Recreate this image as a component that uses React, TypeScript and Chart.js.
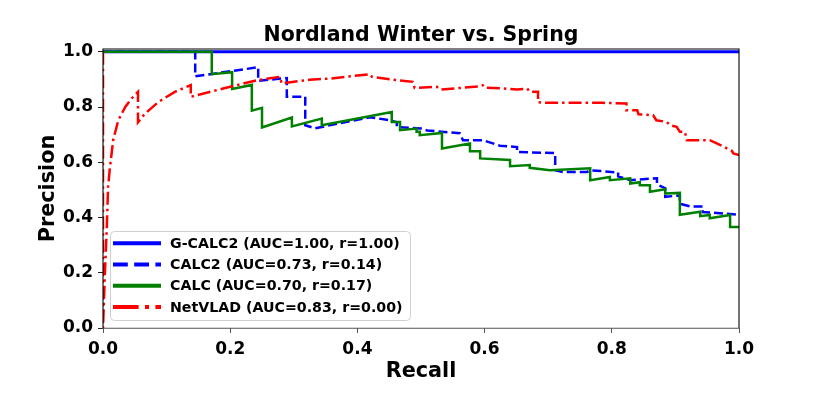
import React, { useEffect, useRef } from "react";
import { Chart, registerables } from "chart.js";

Chart.register(...registerables);

const chartTitle = "Nordland Winter vs. Spring";
const xLabel = "Recall";
const yLabel = "Precision";

const seriesNames = [
  "G-CALC2 (AUC=1.00, r=1.00)",
  "CALC2 (AUC=0.73, r=0.14)",
  "CALC (AUC=0.70, r=0.17)",
  "NetVLAD (AUC=0.83, r=0.00)",
];

const xTicks = [0, 0.2, 0.4, 0.6, 0.8, 1.0];
const yTicks = [0, 0.2, 0.4, 0.6, 0.8, 1.0];

const gcalc2Recall = [0, 1];
const gcalc2Precision = [1, 1];

const calc2Recall = [
  0, 0.145, 0.145, 0.244, 0.244, 0.289, 0.289, 0.318, 0.318, 0.333,
  0.42, 0.451, 0.462, 0.462, 0.5, 0.51, 0.561, 0.566, 0.597, 0.624,
  0.651, 0.651, 0.711, 0.711, 0.723, 0.761, 0.767, 0.81, 0.81, 0.829,
  0.871, 0.871, 0.884, 0.884, 0.907, 0.907, 0.923, 0.943, 0.943, 1.0,
];
const calc2Precision = [
  1, 1, 0.911, 0.944, 0.895, 0.905, 0.837, 0.837, 0.734, 0.723,
  0.763, 0.752, 0.745, 0.727, 0.722, 0.715, 0.705, 0.68, 0.68, 0.66,
  0.655, 0.637, 0.633, 0.571, 0.565, 0.565, 0.571, 0.563, 0.549, 0.535,
  0.542, 0.52, 0.506, 0.475, 0.48, 0.45, 0.44, 0.44, 0.42, 0.41,
];

const calcRecall = [
  0, 0.171, 0.171, 0.203, 0.203, 0.234, 0.234, 0.25, 0.25, 0.297,
  0.297, 0.344, 0.344, 0.454, 0.454, 0.467, 0.467, 0.493, 0.493, 0.498,
  0.498, 0.533, 0.533, 0.577, 0.577, 0.593, 0.593, 0.64, 0.64, 0.671,
  0.671, 0.703, 0.766, 0.766, 0.797, 0.797, 0.829, 0.829, 0.844, 0.844,
  0.86, 0.86, 0.884, 0.884, 0.907, 0.907, 0.939, 0.939, 0.954, 0.954,
  0.986, 0.986, 1.0,
];
const calcPrecision = [
  1, 1, 0.919, 0.926, 0.865, 0.88, 0.787, 0.797, 0.726, 0.762,
  0.73, 0.758, 0.734, 0.782, 0.746, 0.746, 0.716, 0.722, 0.71, 0.71,
  0.698, 0.706, 0.65, 0.668, 0.64, 0.64, 0.614, 0.608, 0.586, 0.59,
  0.58, 0.571, 0.578, 0.535, 0.547, 0.535, 0.542, 0.523, 0.528, 0.517,
  0.517, 0.493, 0.502, 0.487, 0.489, 0.41, 0.421, 0.405, 0.409, 0.397,
  0.409, 0.366, 0.366,
];

const netvladRecall = [
  0, 0, 0.003, 0.006, 0.008, 0.011, 0.016, 0.024, 0.035, 0.045,
  0.055, 0.055, 0.066, 0.087, 0.113, 0.138, 0.138, 0.189, 0.242, 0.278,
  0.281, 0.325, 0.357, 0.42, 0.423, 0.462, 0.487, 0.49, 0.525, 0.53,
  0.593, 0.597, 0.6, 0.629, 0.651, 0.667, 0.671, 0.684, 0.684, 0.698,
  0.786, 0.823, 0.823, 0.84, 0.842, 0.865, 0.87, 0.886, 0.892, 0.902,
  0.907, 0.915, 0.918, 0.954, 0.965, 0.975, 0.981, 0.989, 0.991, 1.0,
];
const netvladPrecision = [
  1, 0, 0.199, 0.366, 0.511, 0.583, 0.68, 0.752, 0.8, 0.831,
  0.855, 0.745, 0.776, 0.818, 0.855, 0.879, 0.837, 0.867, 0.897, 0.909,
  0.885, 0.899, 0.903, 0.919, 0.909, 0.897, 0.891, 0.869, 0.873, 0.863,
  0.875, 0.879, 0.87, 0.867, 0.863, 0.867, 0.855, 0.855, 0.817, 0.815,
  0.815, 0.813, 0.788, 0.788, 0.774, 0.77, 0.752, 0.746, 0.734, 0.728,
  0.71, 0.71, 0.68, 0.68, 0.668, 0.658, 0.65, 0.641, 0.632, 0.626,
];

const FONT = "'DejaVu Sans', sans-serif";

const zip = (xs: number[], ys: number[]) => xs.map((x, i) => ({ x, y: ys[i] }));

const legendStyles = [
  { color: "#0000ff", dash: [] as number[], width: 4 },
  { color: "#0000ff", dash: [14.8, 6.4], width: 4 },
  { color: "#008000", dash: [] as number[], width: 4 },
  { color: "#ff0000", dash: [25.6, 6.4, 4, 6.4], width: 4 },
];

const decorPlugin = {
  id: "decor",
  afterDatasetsDraw(chart: any) {
    const { ctx, chartArea: a } = chart;
    ctx.save();
    ctx.setLineDash([]);
    ctx.lineWidth = 1.1;
    ctx.strokeStyle = "#000";
    ctx.beginPath();
    ctx.moveTo(a.left, a.bottom);
    ctx.lineTo(a.left, a.top);
    ctx.lineTo(a.right, a.top);
    ctx.lineTo(a.right, a.bottom);
    ctx.stroke();
    ctx.strokeStyle = "#555";
    ctx.beginPath();
    ctx.moveTo(a.left - 0.5, a.bottom + 0.3);
    ctx.lineTo(a.right + 0.5, a.bottom + 0.3);
    ctx.stroke();
    ctx.restore();
  },
  afterDraw(chart: any) {
    const { ctx, chartArea: a } = chart;
    ctx.save();
    ctx.fillStyle = "#000";
    // title
    ctx.font = `bold 20.5px ${FONT}`;
    ctx.textAlign = "center";
    ctx.textBaseline = "alphabetic";
    ctx.fillText(chartTitle, (a.left + a.right) / 2, 40.5);
    // x label
    ctx.font = `bold 20.8px ${FONT}`;
    ctx.fillText(xLabel, (a.left + a.right) / 2, 377);
    // y label
    ctx.save();
    ctx.translate(54, (a.top + a.bottom) / 2);
    ctx.rotate(-Math.PI / 2);
    ctx.fillText(yLabel, 0, 0);
    ctx.restore();

    // legend
    const bx = 110.5, by = 231.5, bw = 300, bh = 89;
    ctx.beginPath();
    (ctx as any).roundRect(bx, by, bw, bh, 4);
    ctx.fillStyle = "rgba(255,255,255,0.8)";
    ctx.fill();
    ctx.strokeStyle = "#d0d0d0";
    ctx.lineWidth = 1;
    ctx.stroke();
    const rows = [243.3, 264.5, 285.7, 307];
    ctx.font = `bold 14.2px ${FONT}`;
    ctx.textAlign = "left";
    ctx.textBaseline = "middle";
    seriesNames.forEach((name, i) => {
      const st = legendStyles[i];
      ctx.beginPath();
      ctx.setLineDash(st.dash);
      ctx.lineCap = "butt";
      ctx.strokeStyle = st.color;
      ctx.lineWidth = st.width;
      ctx.moveTo(113, rows[i]);
      ctx.lineTo(161, rows[i]);
      ctx.stroke();
      ctx.setLineDash([]);
      ctx.fillStyle = "#000";
      ctx.fillText(name, 170, rows[i] + 1);
    });
    ctx.restore();
  },
};

export default function App() {
  const ref = useRef<HTMLCanvasElement | null>(null);

  useEffect(() => {
    if (!ref.current) return;
    const chart = new Chart(ref.current, {
      type: "line",
      data: {
        datasets: [
          {
            label: seriesNames[0],
            data: zip(gcalc2Recall, gcalc2Precision),
            borderColor: "#0000ff",
            borderWidth: 3,
            order: 4,
          },
          {
            label: seriesNames[1],
            data: zip(calc2Recall, calc2Precision),
            borderColor: "#0000ff",
            borderWidth: 2.5,
            borderDash: [9, 4],
            order: 3,
          },
          {
            label: seriesNames[2],
            data: zip(calcRecall, calcPrecision),
            borderColor: "#008000",
            borderWidth: 2.5,
            order: 2,
          },
          {
            label: seriesNames[3],
            data: zip(netvladRecall, netvladPrecision),
            borderColor: "#ff0000",
            borderWidth: 2.5,
            borderDash: [13, 4, 2.5, 4],
            order: 1,
          },
        ] as any,
      },
      options: {
        animation: false,
        responsive: false,
        devicePixelRatio: 1,
        events: [],
        elements: {
          point: { radius: 0 },
          line: { tension: 0, fill: false, borderJoinStyle: "miter" as any },
        },
        layout: { padding: { top: 49, right: 83, left: 0, bottom: 0 } },
        plugins: {
          legend: { display: false },
          title: { display: false },
          tooltip: { enabled: false },
        },
        scales: {
          x: {
            type: "linear",
            min: 0,
            max: 1,
            afterBuildTicks: (s: any) => {
              s.ticks = xTicks.map((v) => ({ value: v }));
            },
            afterFit: (s: any) => {
              s.height = 83;
            },
            grid: {
              display: true,
              drawOnChartArea: false,
              drawTicks: true,
              tickLength: 5,
              color: "#555",
              lineWidth: 1,
            },
            border: { display: false },
            ticks: {
              autoSkip: false,
              maxRotation: 0,
              padding: 6,
              color: "#000",
              font: { family: FONT, size: 17, weight: "bold" },
              callback: (v: any) => Number(v).toFixed(1),
            },
          },
          y: {
            type: "linear",
            min: 0,
            max: 1.01,
            afterBuildTicks: (s: any) => {
              s.ticks = yTicks.map((v) => ({ value: v }));
            },
            afterFit: (s: any) => {
              s.width = 103;
            },
            grid: {
              display: true,
              drawOnChartArea: false,
              drawTicks: true,
              tickLength: 5,
              color: "#222",
              lineWidth: 1,
            },
            border: { display: false },
            ticks: {
              autoSkip: false,
              padding: 5,
              color: "#000",
              font: { family: FONT, size: 17, weight: "bold" },
              callback: (v: any) => Number(v).toFixed(1),
            },
          },
        },
      },
      plugins: [decorPlugin],
    });
    return () => chart.destroy();
  }, []);

  return (
    <div style={{ position: "fixed", left: 0, top: 0, width: 822, height: 411, background: "#fff" }}>
      <canvas ref={ref} width={822} height={411} style={{ display: "block" }} />
    </div>
  );
}
